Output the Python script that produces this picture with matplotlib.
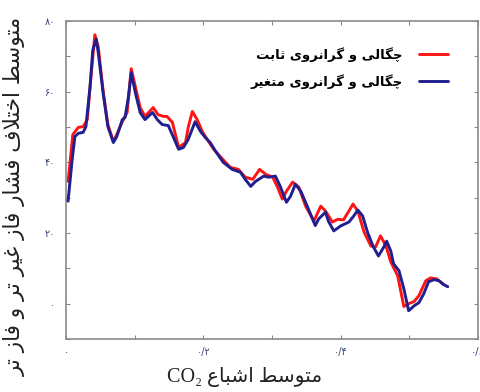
import matplotlib
matplotlib.use("Agg")
import matplotlib.pyplot as plt
from matplotlib.ticker import MultipleLocator, FuncFormatter

# ---- data ---------------------------------------------------------------
sat_const = [0.003, 0.010, 0.018, 0.025, 0.031, 0.036, 0.042, 0.047, 0.054, 0.061,
             0.069, 0.074, 0.082, 0.089, 0.095, 0.101, 0.108, 0.115, 0.127, 0.134,
             0.142, 0.147, 0.155, 0.164, 0.174, 0.178, 0.184, 0.191, 0.199, 0.215,
             0.239, 0.251, 0.261, 0.272, 0.282, 0.291, 0.301, 0.308, 0.315, 0.321,
             0.330, 0.339, 0.349, 0.361, 0.371, 0.378, 0.388, 0.396, 0.404, 0.412,
             0.418, 0.425, 0.434, 0.444, 0.451, 0.458, 0.466, 0.473, 0.483, 0.492,
             0.499, 0.507, 0.514, 0.524, 0.531, 0.540, 0.550]
dp_const = [34.6, 47.9, 49.9, 50.1, 52.1, 63.4, 76.1, 72.7, 60.3, 50.7,
            45.9, 47.9, 51.5, 54.1, 66.5, 61.4, 55.5, 53.0, 55.5, 53.5,
            53.0, 53.0, 51.3, 44.2, 45.6, 49.9, 54.4, 52.1, 48.5, 43.7,
            38.6, 38.0, 35.8, 35.2, 38.0, 36.6, 35.8, 33.0, 29.6, 31.8,
            34.4, 33.0, 27.6, 23.4, 27.6, 26.2, 23.1, 23.9, 23.7, 26.2,
            28.2, 26.2, 20.3, 16.3, 16.1, 19.2, 16.3, 11.8, 7.9, -0.8,
            0.0, 0.6, 2.3, 6.5, 7.3, 7.0, 5.4]

sat_var = [0.003, 0.009, 0.013, 0.018, 0.025, 0.029, 0.035, 0.039, 0.044, 0.047,
           0.054, 0.061, 0.069, 0.074, 0.082, 0.086, 0.091, 0.095, 0.101, 0.108,
           0.115, 0.126, 0.133, 0.140, 0.149, 0.156, 0.164, 0.171, 0.178, 0.183,
           0.188, 0.196, 0.203, 0.210, 0.218, 0.229, 0.242, 0.254, 0.261, 0.269,
           0.276, 0.288, 0.295, 0.305, 0.312, 0.321, 0.327, 0.334, 0.342, 0.353,
           0.363, 0.368, 0.378, 0.382, 0.390, 0.400, 0.412, 0.419, 0.425, 0.432,
           0.439, 0.447, 0.455, 0.463, 0.467, 0.473, 0.477, 0.485, 0.492, 0.499,
           0.507, 0.514, 0.521, 0.528, 0.536, 0.543, 0.550, 0.556]
dp_var = [29.0, 40.8, 47.3, 48.2, 48.5, 50.1, 61.4, 71.8, 74.9, 71.0,
          59.7, 50.1, 45.6, 47.3, 52.1, 52.7, 58.6, 65.4, 59.7, 54.1,
          52.1, 54.1, 52.1, 50.7, 50.4, 47.3, 43.7, 44.2, 46.5, 49.0,
          51.5, 48.7, 47.0, 45.6, 43.1, 40.0, 38.0, 37.2, 35.2, 33.2,
          34.6, 36.1, 35.8, 36.1, 33.2, 28.7, 30.4, 33.8, 31.8, 26.8,
          22.1, 24.0, 25.9, 23.4, 20.6, 22.0, 23.1, 24.8, 26.5, 24.8,
          20.3, 16.3, 13.5, 16.1, 17.7, 14.9, 11.3, 9.3, 4.2, -2.0,
          -0.6, 0.3, 2.8, 6.2, 6.8, 6.5, 5.4, 4.8]

label_const = "چگالی و گرانروی ثابت"
label_var = "چگالی و گرانروی متغیر"
xlabel_text = "متوسط اشباع"
ylabel_text = "متوسط اختلاف فشار فاز غیر تر و فاز تر"

# ---- minimal Arabic/Persian shaping (contextual forms + RTL order) --------
# forms: (isolated, final, initial, medial); None -> letter joins only on the right
FORMS = {
    "ا": (0xFE8D, 0xFE8E, None, None),
    "ب": (0xFE8F, 0xFE90, 0xFE91, 0xFE92),
    "ت": (0xFE95, 0xFE96, 0xFE97, 0xFE98),
    "ث": (0xFE99, 0xFE9A, 0xFE9B, 0xFE9C),
    "خ": (0xFEA5, 0xFEA6, 0xFEA7, 0xFEA8),
    "ر": (0xFEAD, 0xFEAE, None, None),
    "ز": (0xFEAF, 0xFEB0, None, None),
    "س": (0xFEB1, 0xFEB2, 0xFEB3, 0xFEB4),
    "ش": (0xFEB5, 0xFEB6, 0xFEB7, 0xFEB8),
    "ط": (0xFEC1, 0xFEC2, 0xFEC3, 0xFEC4),
    "ع": (0xFEC9, 0xFECA, 0xFECB, 0xFECC),
    "غ": (0xFECD, 0xFECE, 0xFECF, 0xFED0),
    "ف": (0xFED1, 0xFED2, 0xFED3, 0xFED4),
    "ل": (0xFEDD, 0xFEDE, 0xFEDF, 0xFEE0),
    "م": (0xFEE1, 0xFEE2, 0xFEE3, 0xFEE4),
    "ن": (0xFEE5, 0xFEE6, 0xFEE7, 0xFEE8),
    "و": (0xFEED, 0xFEEE, None, None),
    "چ": (0xFB7A, 0xFB7B, 0xFB7C, 0xFB7D),
    "گ": (0xFB92, 0xFB93, 0xFB94, 0xFB95),
    "ی": (0xFBFC, 0xFBFD, 0xFBFE, 0xFBFF),
}


def _dual(c):
    return c in FORMS and FORMS[c][2] is not None


def shape(text):
    out = []
    i = 0
    n = len(text)
    while i < n:
        c = text[i]
        if c not in FORMS:
            out.append(c)
            i += 1
            continue
        prev = text[i - 1] if i > 0 else ""
        joins_prev = _dual(prev)
        # lam-alef ligature
        if c == "ل" and i + 1 < n and text[i + 1] == "ا":
            out.append(chr(0xFEFC if joins_prev else 0xFEFB))
            i += 2
            continue
        nxt = text[i + 1] if i + 1 < n else ""
        joins_next = _dual(c) and nxt in FORMS
        iso, fin, ini, med = FORMS[c]
        if joins_prev and joins_next:
            g = med
        elif joins_prev:
            g = fin
        elif joins_next:
            g = ini
        else:
            g = iso
        out.append(chr(g))
        i += 1
    return "".join(reversed(out))


PERSIAN_DIGITS = str.maketrans("0123456789.", "۰۱۲۳۴۵۶۷۸۹/")

# ---- figure -------------------------------------------------------------
fig = plt.figure(figsize=(4.81, 3.92), dpi=100)
ax = fig.add_axes([66 / 481, 1 - 339 / 392, (478 - 66) / 481, (339 - 21) / 392])

red = "#ff1414"
navy = "#1f1f8f"
ax.plot(sat_const, dp_const, color=red, lw=2.1, solid_joinstyle="round",
        solid_capstyle="round", label=shape(label_const), zorder=2)
ax.plot(sat_var, dp_var, color=navy, lw=2.1, solid_joinstyle="round",
        solid_capstyle="round", label=shape(label_var), zorder=3)

ax.set_xlim(0, 0.6)
ax.set_ylim(-10, 80)

ax.xaxis.set_major_locator(MultipleLocator(0.1))
ax.yaxis.set_major_locator(MultipleLocator(10))


def xfmt(v, pos):
    k = int(round(v * 10))
    if k % 2:
        return ""
    s = "0" if k == 0 else f"0.{k}"
    return s.translate(PERSIAN_DIGITS)


def yfmt(v, pos):
    k = int(round(v))
    if k < 0 or k % 20:
        return ""
    return str(k).translate(PERSIAN_DIGITS)


ax.xaxis.set_major_formatter(FuncFormatter(xfmt))
ax.yaxis.set_major_formatter(FuncFormatter(yfmt))

tick_color = "#334477"
ax.tick_params(axis="both", direction="in", length=3, width=0.8, color="#888888",
               top=True, right=True, labelsize=7, labelcolor=tick_color)
ax.tick_params(axis="x", pad=6)
ax.tick_params(axis="y", pad=8)
for sp in ax.spines.values():
    sp.set_color("#8a8a8a")
    sp.set_linewidth(1.2)

# axis titles
fig.text(15 / 481, 1 - 196 / 392, shape(ylabel_text), rotation=90,
         ha="center", va="center", fontsize=15.5, family=["DejaVu Sans"],
         color="#222222")
fig.text(245 / 481, 1 - 377 / 392, "CO₂ " + shape(xlabel_text),
         ha="center", va="center", fontsize=14.5,
         family=["Liberation Serif", "DejaVu Sans"], color="#222222")

leg = ax.legend(loc="upper right", bbox_to_anchor=(0.955, 0.955), frameon=False,
                markerfirst=False, handlelength=2.2, handletextpad=1.2,
                labelspacing=0.9, prop={"family": "DejaVu Sans",
                                        "weight": "bold", "size": 9.5})

fig.savefig("out.png", dpi=100, facecolor="white")
